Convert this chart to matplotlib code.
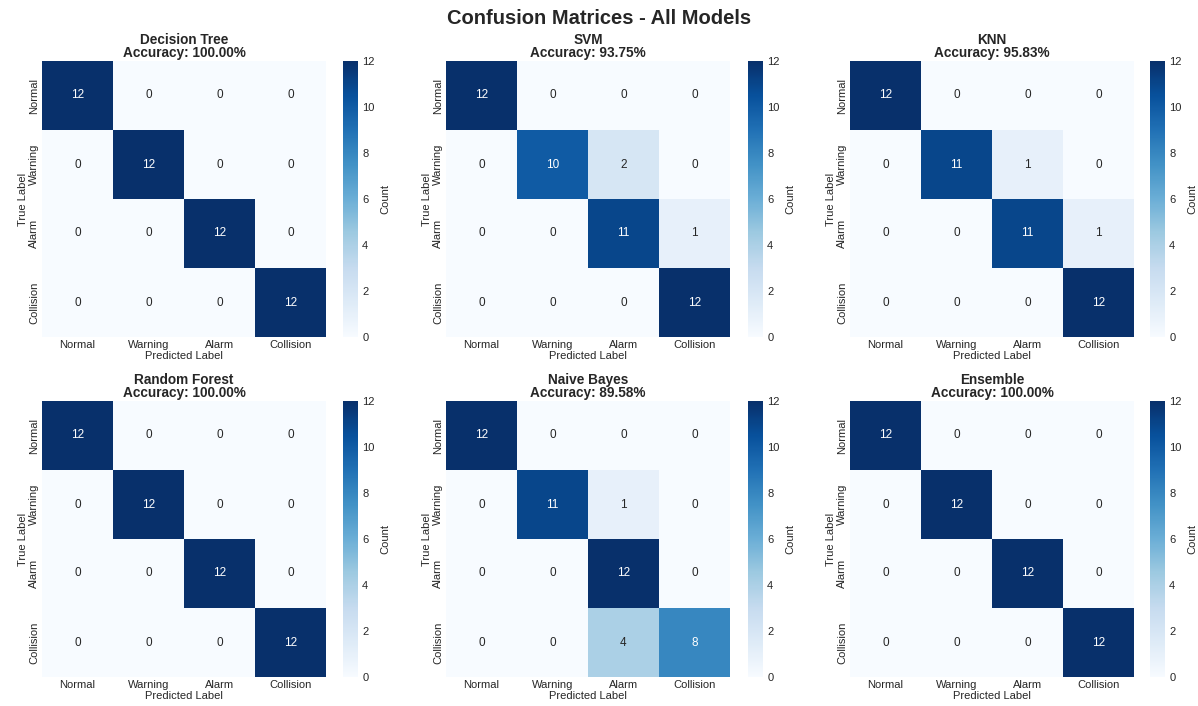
import matplotlib
matplotlib.use("Agg")
import matplotlib.pyplot as plt
import numpy as np
import seaborn as sns

sns.set_style("white")
plt.rcParams["font.family"] = ["Liberation Sans", "DejaVu Sans"]

classes = ["Normal", "Warning", "Alarm", "Collision"]
model_names = ["Decision Tree", "SVM", "KNN", "Random Forest", "Naive Bayes", "Ensemble"]

cm_decision_tree = [[12, 0, 0, 0], [0, 12, 0, 0], [0, 0, 12, 0], [0, 0, 0, 12]]
cm_svm = [[12, 0, 0, 0], [0, 10, 2, 0], [0, 0, 11, 1], [0, 0, 0, 12]]
cm_knn = [[12, 0, 0, 0], [0, 11, 1, 0], [0, 0, 11, 1], [0, 0, 0, 12]]
cm_random_forest = [[12, 0, 0, 0], [0, 12, 0, 0], [0, 0, 12, 0], [0, 0, 0, 12]]
cm_naive_bayes = [[12, 0, 0, 0], [0, 11, 1, 0], [0, 0, 12, 0], [0, 0, 4, 8]]
cm_ensemble = [[12, 0, 0, 0], [0, 12, 0, 0], [0, 0, 12, 0], [0, 0, 0, 12]]

matrices = [cm_decision_tree, cm_svm, cm_knn,
            cm_random_forest, cm_naive_bayes, cm_ensemble]

W, H = 1198, 706
fig = plt.figure(figsize=(W / 100, H / 100), dpi=100)

# pixel boxes for the heatmaps (left, right) per column and (top, bottom) per row
col_x = [(42, 326), (446, 730), (850, 1134)]
cbar_x = [343, 748, 1150]
row_y = [(61, 337), (401, 677)]

for i, (name, cm) in enumerate(zip(model_names, matrices)):
    r, c = divmod(i, 3)
    x0, x1 = col_x[c]
    y0, y1 = row_y[r]
    ax = fig.add_axes([x0 / W, 1 - y1 / H, (x1 - x0) / W, (y1 - y0) / H])
    cax = fig.add_axes([cbar_x[c] / W, 1 - y1 / H, 15 / W, (y1 - y0) / H])
    cm = np.array(cm)
    acc = np.trace(cm) / cm.sum() * 100
    sns.heatmap(cm, annot=True, fmt="d", cmap="Blues", ax=ax, cbar_ax=cax,
                xticklabels=classes, yticklabels=classes,
                annot_kws={"fontsize": 8.5},
                cbar_kws={"label": "Count"})
    ax.set_title(f"{name}\nAccuracy: {acc:.2f}%", fontsize=9.8,
                 fontweight="bold", pad=3, linespacing=0.9)
    ax.set_xlabel("Predicted Label", fontsize=8, labelpad=1)
    ax.set_ylabel("True Label", fontsize=8, labelpad=1)
    ax.tick_params(axis="both", labelsize=8, length=0, pad=2)
    cax.tick_params(labelsize=8, length=0, pad=3)
    cax.set_ylabel("Count", fontsize=8)
    cax.set_yticks(range(0, 13, 2))
    for s in cax.spines.values():
        s.set_visible(False)

fig.suptitle("Confusion Matrices - All Models", fontsize=14.5,
             fontweight="bold", y=1 - 18 / H, va="center")

fig.savefig("out.png", dpi=100)
